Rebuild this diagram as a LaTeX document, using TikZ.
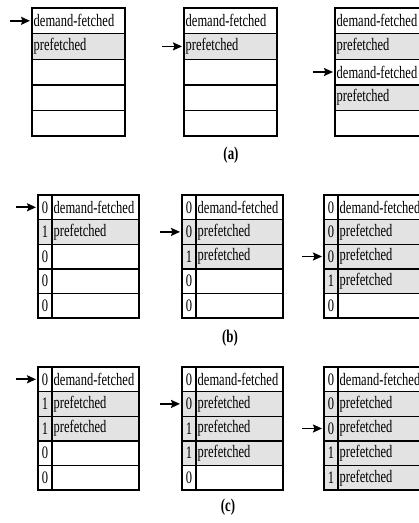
\documentclass[tikz,border=0pt]{standalone}
\usepackage{graphicx}
\usepackage{fontspec}
\setmainfont{Liberation Serif}
\usetikzlibrary{arrows.meta}
\colorlet{pf}{black!11}
% narrow glyphs, as in the cache figures
\newcommand\nar[1]{\scalebox{0.715}[1]{#1}}
% table without a bit column: name, x, top, list of text/fill
\newcommand\plaintable[4]{%
  \foreach \t/\f [count=\i] in {#4} {
    \node[cell, fill=\f, minimum width=93pt, minimum height=25.6pt] (#1r\i) at (#2, {#3+(\i-1)*25.6}) {};
    \node[celltext] (#1t\i) at ([xshift=1.5pt]#1r\i.west) {\nar{\t}};
  }}
% table with a bit column: name, x, top, list of bit/text/fill
\newcommand\bittable[4]{%
  \foreach \b/\t/\f [count=\i] in {#4} {
    \node[cell, fill=\f, minimum width=14pt, minimum height=24.6pt] (#1b\i) at (#2, {#3+(\i-1)*24.6}) {\nar{\b}};
    \node[cell, fill=\f, minimum width=87pt, minimum height=24.6pt] (#1r\i) at (#1b\i.north east) {};
    \node[celltext] (#1t\i) at ([xshift=1.5pt]#1r\i.west) {\nar{\t}};
  }}
\begin{document}
\begin{tikzpicture}[x=1pt,y=-1pt,
  cell/.style={draw=black, line width=1.4pt, anchor=north west, inner sep=0pt, outer sep=0pt,
    font=\fontsize{17.5}{20}\selectfont},
  celltext/.style={anchor=west, inner sep=0pt, font=\fontsize{17.5}{20}\selectfont},
  lbl/.style={inner sep=0pt, font=\fontsize{18}{20}\selectfont\bfseries},
  ptr/.style={-{Stealth[length=9pt,width=8pt,inset=1.5pt]}, line width=1.7pt, shorten >=2pt}]
\useasboundingbox (0,0) rectangle (419,523);

% (a) plain buffer
\plaintable{a1}{32}{8}{demand-fetched/white, prefetched/pf, /white, /white, /white}
\plaintable{a2}{184}{8}{demand-fetched/white, prefetched/pf, /white, /white, /white}
\plaintable{a3}{335}{8}{demand-fetched/white, prefetched/pf, demand-fetched/white, prefetched/pf, /white}
\coordinate (a1p) at ([xshift=-22pt]a1r1.west);
\coordinate (a2p) at ([xshift=-22pt]a2r2.west);
\coordinate (a3p) at ([xshift=-22pt]a3r3.west);
\draw[ptr] (a1p) -- (a1r1.west);
\draw[ptr] (a2p) -- (a2r2.west);
\draw[ptr] (a3p) -- (a3r3.west);
\node[lbl] (la) at (231,155) {\nar{(a)}};

% (b) buffer with one-bit tags
\bittable{b1}{38}{195}{0/demand-fetched/white, 1/prefetched/pf, 0//white, 0//white, 0//white}
\bittable{b2}{182}{195}{0/demand-fetched/white, 0/prefetched/pf, 1/prefetched/pf, 0//white, 0//white}
\bittable{b3}{324}{195}{0/demand-fetched/white, 0/prefetched/pf, 0/prefetched/pf, 1/prefetched/pf, 0//white}
\coordinate (b1p) at ([xshift=-22pt]b1b1.west);
\coordinate (b2p) at ([xshift=-22pt]b2b2.west);
\coordinate (b3p) at ([xshift=-22pt]b3b3.west);
\draw[ptr] (b1p) -- (b1b1.west);
\draw[ptr] (b2p) -- (b2b2.west);
\draw[ptr] (b3p) -- (b3b3.west);
\node[lbl] (lb) at (230,338) {\nar{(b)}};

% (c) buffer with tags, two lines prefetched per miss
\bittable{c1}{38}{367}{0/demand-fetched/white, 1/prefetched/pf, 1/prefetched/pf, 0//white, 0//white}
\bittable{c2}{182}{367}{0/demand-fetched/white, 0/prefetched/pf, 1/prefetched/pf, 1/prefetched/pf, 0//white}
\bittable{c3}{324}{367}{0/demand-fetched/white, 0/prefetched/pf, 0/prefetched/pf, 1/prefetched/pf, 1/prefetched/pf}
\coordinate (c1p) at ([xshift=-22pt]c1b1.west);
\coordinate (c2p) at ([xshift=-22pt]c2b2.west);
\coordinate (c3p) at ([xshift=-22pt]c3b3.west);
\draw[ptr] (c1p) -- (c1b1.west);
\draw[ptr] (c2p) -- (c2b2.west);
\draw[ptr] (c3p) -- (c3b3.west);
\node[lbl] (lc) at (228,507) {\nar{(c)}};
\end{tikzpicture}
\end{document}
